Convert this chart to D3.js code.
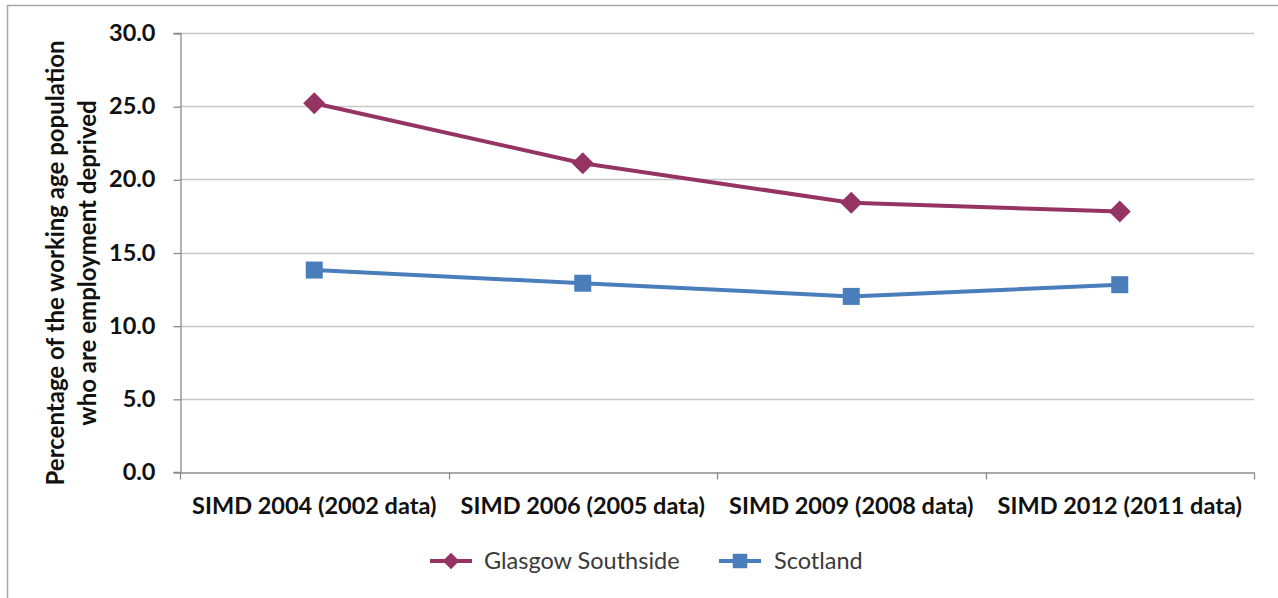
<!DOCTYPE html>
<html>
<head>
<meta charset="utf-8">
<script src="https://cdn.jsdelivr.net/npm/d3@7"></script>
<style>
  html, body { margin: 0; padding: 0; background: #fff; }
  svg { display: block; font-family: Lato, "Open Sans", sans-serif; }
</style>
</head>
<body>
<svg id="chart" width="1278" height="598"></svg>
<script>
// SIMD releases and the share of working-age people who are employment deprived
const categories = [
  "SIMD 2004 (2002 data)",
  "SIMD 2006 (2005 data)",
  "SIMD 2009 (2008 data)",
  "SIMD 2012 (2011 data)"
];
const glasgowSouthside = [25.2, 21.1, 18.4, 17.8];
const scotland = [13.8, 12.9, 12.0, 12.8];
const yTicks = [0, 5, 10, 15, 20, 25, 30];
const seriesNames = ["Glasgow Southside", "Scotland"];
const yTitleLines = ["Percentage of the working age population", "who are employment deprived"];

const colors = { "Glasgow Southside": "#953462", "Scotland": "#4a7ebb" };

const svg = d3.select("#chart");
const W = 1278, H = 598;

// outer chart-area frame
svg.append("rect")
  .attr("x", 7.5).attr("y", 5.5)
  .attr("width", W + 10).attr("height", H + 10)
  .attr("fill", "#fff").attr("stroke", "#a6a6a6").attr("stroke-width", 1.5);

const plot = { left: 180, right: 1254, top: 33, bottom: 472 };

const x = d3.scaleBand().domain(categories).range([plot.left, plot.right]).paddingInner(0).paddingOuter(0);
const y = d3.scaleLinear().domain([0, 30]).range([plot.bottom, plot.top]);

// horizontal gridlines
svg.append("g")
  .selectAll("line")
  .data(yTicks.filter(d => d > 0))
  .join("line")
  .attr("x1", plot.left).attr("x2", plot.right)
  .attr("y1", d => Math.round(y(d)) + 0.5).attr("y2", d => Math.round(y(d)) + 0.5)
  .attr("stroke", "#c6c6c6").attr("stroke-width", 1.3);

// y axis
const yAxis = d3.axisLeft(y).tickValues(yTicks).tickFormat(d3.format(".1f")).tickSize(7).tickPadding(18);
const gy = svg.append("g")
  .attr("transform", `translate(${plot.left + 0.5},0)`)
  .call(yAxis);
gy.select(".domain").attr("stroke", "#8c8c8c").attr("stroke-width", 1.3);
gy.selectAll(".tick line").attr("stroke", "#8c8c8c").attr("stroke-width", 1.3)
  .attr("transform", "translate(0,0.5)");
gy.selectAll(".tick text")
  .attr("font-size", 23.5).attr("font-weight", "bold").attr("fill", "#111")
  .attr("font-family", "Lato, sans-serif");

// x axis with tick marks at category boundaries
const xAxis = d3.axisBottom(x).tickSize(0).tickPadding(25);
const gx = svg.append("g")
  .attr("transform", `translate(0,${plot.bottom + 0.5})`)
  .call(xAxis);
gx.select(".domain").attr("stroke", "#8c8c8c").attr("stroke-width", 1.3);
gx.selectAll(".tick text")
  .attr("font-size", 23.5).attr("font-weight", "bold").attr("fill", "#111")
  .attr("font-family", "Lato, sans-serif");
const bounds = categories.map(c => x(c)).concat([plot.right]);
gx.selectAll("line.bound")
  .data(bounds)
  .join("line")
  .attr("class", "bound")
  .attr("x1", d => Math.round(d) + 0.5).attr("x2", d => Math.round(d) + 0.5)
  .attr("y1", 0).attr("y2", 7)
  .attr("stroke", "#8c8c8c").attr("stroke-width", 1.3);

// y axis title (two lines, rotated)
const yTitle = svg.append("text")
  .attr("transform", "translate(64,263) rotate(-90)")
  .attr("text-anchor", "middle")
  .attr("font-size", 24).attr("font-weight", "bold").attr("fill", "#111");
yTitleLines.forEach((t, i) => {
  yTitle.append("tspan").attr("x", 0).attr("dy", i === 0 ? 0 : 32).text(t);
});

// series
const series = [
  { name: seriesNames[0], values: glasgowSouthside, shape: "diamond" },
  { name: seriesNames[1], values: scotland, shape: "square" }
];
const line = d3.line()
  .x((d, i) => x(categories[i]) + x.bandwidth() / 2)
  .y(d => y(d));

function drawMarker(g, shape, cx, cy, color, scale = 1) {
  if (shape === "diamond") {
    const r = 11 * scale;
    g.append("path")
      .attr("d", `M${cx},${cy - r}L${cx + r},${cy}L${cx},${cy + r}L${cx - r},${cy}Z`)
      .attr("fill", color);
  } else {
    const s = 17 * scale;
    g.append("rect")
      .attr("x", cx - s / 2).attr("y", cy - s / 2)
      .attr("width", s).attr("height", s)
      .attr("fill", color);
  }
}

series.forEach(s => {
  const g = svg.append("g");
  g.append("path")
    .datum(s.values)
    .attr("d", line)
    .attr("fill", "none")
    .attr("stroke", colors[s.name])
    .attr("stroke-width", 4)
    .attr("stroke-linejoin", "round");
  s.values.forEach((v, i) => {
    drawMarker(g, s.shape, x(categories[i]) + x.bandwidth() / 2, y(v), colors[s.name]);
  });
});

// legend
const legendItems = [
  { name: seriesNames[0], shape: "diamond", x0: 430, tx: 484 },
  { name: seriesNames[1], shape: "square", x0: 719, tx: 774 }
];
const ly = 561;
legendItems.forEach(it => {
  const g = svg.append("g");
  g.append("line")
    .attr("x1", it.x0).attr("x2", it.x0 + 42)
    .attr("y1", ly).attr("y2", ly)
    .attr("stroke", colors[it.name]).attr("stroke-width", 4);
  drawMarker(g, it.shape, it.x0 + 21, ly, colors[it.name], it.shape === "diamond" ? 0.75 : 0.85);
  g.append("text")
    .attr("x", it.tx).attr("y", ly + 8)
    .attr("font-size", 23.5).attr("fill", "#3a3a3a")
    .text(it.name);
});
</script>
</body>
</html>
